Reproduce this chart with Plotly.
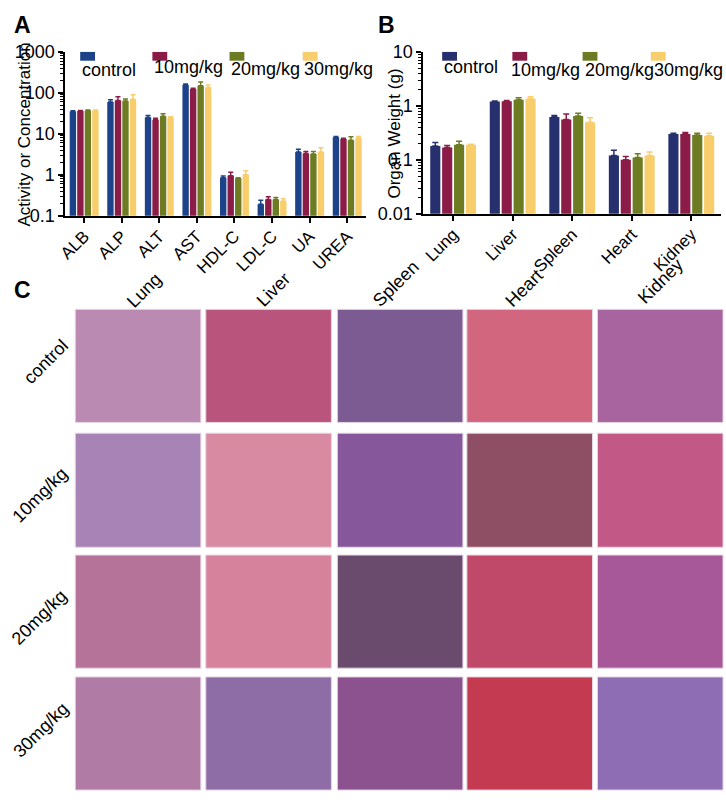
import plotly.graph_objects as go

W, H = 726, 802

groups = ["control", "10mg/kg", "20mg/kg", "30mg/kg"]

# panel A - serum biochemistry
markers = ["ALB", "ALP", "ALT", "AST", "HDL-C", "LDL-C", "UA", "UREA"]
a_vals = [
    [35, 60, 25, 155, 0.85, 0.19, 3.6, 8.2],
    [36, 65, 22, 125, 0.95, 0.25, 3.3, 7.5],
    [37, 63, 27, 150, 0.82, 0.25, 3.2, 7.0],
    [37, 70, 25, 135, 1.00, 0.23, 3.6, 7.8],
]
a_err = [
    [1.5, 8, 3, 10, 0.08, 0.05, 0.6, 0.4],
    [1.0, 15, 2, 5, 0.20, 0.04, 0.4, 0.3],
    [1.0, 8, 4, 35, 0.03, 0.03, 0.5, 1.5],
    [1.0, 20, 1, 20, 0.25, 0.03, 1.0, 0.8],
]

# panel B - organ weight
organs = ["Lung", "Liver", "Spleen", "Heart", "Kidney"]
b_vals = [
    [0.18, 1.20, 0.62, 0.12, 0.30],
    [0.17, 1.22, 0.56, 0.10, 0.30],
    [0.19, 1.30, 0.65, 0.11, 0.29],
    [0.19, 1.35, 0.50, 0.12, 0.28],
]
b_err = [
    [0.03, 0.03, 0.04, 0.03, 0.01],
    [0.015, 0.04, 0.15, 0.015, 0.02],
    [0.03, 0.12, 0.08, 0.02, 0.02],
    [0.005, 0.12, 0.10, 0.02, 0.03],
]

colors_a = ["#1c4289", "#8a1c47", "#6d7c22", "#f8cd6c"]
colors_b = ["#27306f", "#8a1c47", "#6d7c22", "#f8cd6c"]

# panel C - mean tint of each H&E section (rows = dose, cols = organ)
tissue = [
    ["#bb8ab3", "#b9547c", "#7c5a92", "#d2667f", "#a8649e"],
    ["#a883b5", "#d98aa3", "#86589b", "#8e4e63", "#c25885"],
    ["#b57399", "#d7829d", "#6a4b6e", "#c04869", "#a65899"],
    ["#b07ca6", "#8e6ca6", "#8b528f", "#c43a51", "#8f6db4"],
]

FONT = "Liberation Sans, Arial, sans-serif"


def px(x):
    return x / W


def py(y):
    return 1 - y / H


def txt(text, x, y, size=18, angle=0, xa="center", ya="middle"):
    return dict(text=text, x=px(x), y=py(y), xref="paper", yref="paper",
                xanchor=xa, yanchor=ya, textangle=angle, showarrow=False,
                font=dict(size=size, family=FONT, color="black"))


def log_minor(lo, hi):
    # 2..9 x 10^k between the decades
    return [m * 10.0 ** k for k in range(lo, hi) for m in range(2, 10)]


fig = go.Figure()

for i, g in enumerate(groups):
    fig.add_trace(go.Bar(
        x=markers, y=a_vals[i], name=g, marker_color=colors_a[i],
        marker_line_width=0, showlegend=False,
        error_y=dict(type="data", symmetric=False, array=a_err[i],
                     arrayminus=[0] * len(markers), color=colors_a[i],
                     thickness=1.5, width=2.5),
        xaxis="x", yaxis="y",
    ))
    fig.add_trace(go.Bar(
        x=organs, y=b_vals[i], name=g, marker_color=colors_b[i],
        marker_line_width=0, showlegend=False,
        error_y=dict(type="data", symmetric=False, array=b_err[i],
                     arrayminus=[0] * len(organs), color=colors_b[i],
                     thickness=1.5, width=3),
        xaxis="x2", yaxis="y2",
    ))

line_style = dict(showline=True, linecolor="black", linewidth=2,
                  ticks="outside", tickcolor="black", ticklen=5, tickwidth=1.5,
                  showgrid=False, zeroline=False)
x_style = dict(tickangle=-45, ticklabelstandoff=-3,
               tickfont=dict(size=17, color="black", family=FONT), **line_style)
y_style = dict(type="log", tickfont=dict(size=18, color="black", family=FONT),
               **line_style)
minor_style = dict(tickmode="array", ticks="outside", ticklen=3, tickwidth=1,
                   tickcolor="black", showgrid=False)

fig.update_layout(
    width=W, height=H,
    margin=dict(l=0, r=0, t=0, b=0),
    paper_bgcolor="white", plot_bgcolor="white",
    barmode="group", bargap=0.2, bargroupgap=0.15,
    font=dict(family=FONT, color="black"),
    xaxis=dict(domain=[px(58), px(362)], anchor="y", range=[-0.5, 7.5], **x_style),
    yaxis=dict(domain=[py(211), py(43)], anchor="x", range=[-1, 3],
               tickvals=[0.1, 1, 10, 100, 1000],
               ticktext=["0.1", "1", "10", "100", "1000"],
               minor=dict(tickvals=log_minor(-1, 3), **minor_style), **y_style),
    xaxis2=dict(domain=[px(420), px(721)], anchor="y2", range=[-0.5, 4.5], **x_style),
    yaxis2=dict(domain=[py(209), py(43)], anchor="x2", range=[-2, 1],
                tickvals=[0.01, 0.1, 1, 10],
                ticktext=["0.01", "0.1", "1", "10"],
                minor=dict(tickvals=log_minor(-2, 1), **minor_style), **y_style),
)

shapes = []
annotations = [
    txt("Activity or Concentration", 17, 128, size=17, angle=-90),
    txt("Organ Weight (g)", 391, 127, size=17, angle=-90),
]

# manual legends: swatch above label
leg_a = [(73, 73, 62), (146, 146, 58), (224, 223, 61), (298, 297, 61)]
leg_b = [(439, 439, 58), (510, 507, 62), (581, 581, 62), (650, 651, 62)]
for legs, cols in ((leg_a, colors_a), (leg_b, colors_b)):
    for (sx, tx, ty), c, g in zip(legs, cols, groups):
        shapes.append(dict(type="rect", xref="paper", yref="paper",
                           x0=px(sx), x1=px(sx + 15), y0=py(52), y1=py(43),
                           fillcolor=c, line_width=0))
        annotations.append(txt(g, tx, ty, xa="left"))

# panel C grid of sections
col_x = [(68, 195), (200, 327), (333, 460), (464, 591), (596, 723)]
row_y = [(307, 423), (434, 551), (559, 675), (684, 800)]
for r, (y0, y1) in enumerate(row_y):
    for c, (x0, x1) in enumerate(col_x):
        shapes.append(dict(type="rect", xref="paper", yref="paper",
                           x0=px(x0), x1=px(x1), y0=py(y1), y1=py(y0),
                           fillcolor=tissue[r][c], line=dict(color="#e6d6e2", width=1)))

organ_lbl_pos = [(138, 287), (268, 287), (392, 281), (522, 285), (660, 278)]
for name, (x, y) in zip(organs, organ_lbl_pos):
    annotations.append(txt(name, x, y, angle=-45))

row_lbl_pos = [(38, 361), (32, 497), (32, 623), (33, 738)]
for name, (x, y) in zip(groups, row_lbl_pos):
    annotations.append(txt(name, x, y, angle=-45))

for letter, (x, y) in zip("ABC", [(4, 0), (372, 0), (4, 272)]):
    annotations.append(txt("<b>%s</b>" % letter, x, y, size=23, xa="left", ya="top"))

fig.update_layout(shapes=shapes, annotations=annotations)

# page body margin would shift the fixed-size figure off the window
fig.write_html("out.html", config={"displayModeBar": False},
               post_script="document.body.style.margin='0';"
                           "document.body.style.overflow='hidden';")
